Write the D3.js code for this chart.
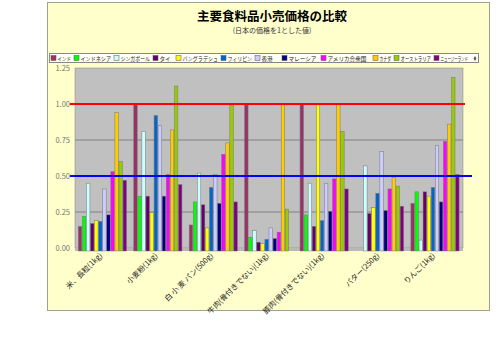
<!DOCTYPE html>
<html>
<head>
<meta charset="utf-8">
<script src="https://cdn.jsdelivr.net/npm/d3@7"></script>
<style>
  body { margin: 0; background: #fff; }
  svg text { font-family: "Noto Sans CJK JP", "DejaVu Sans", sans-serif; }
</style>
</head>
<body>
<svg id="chart" width="500" height="339"></svg>
<script>
const categories = ["米、長粒(1kg)", "小麦粉(1kg)", "白 小 麦 パン(500g)", "牛肉(骨付きでない)(1kg)",
  "豚肉(骨付きでない)(1kg)", "バター(250g)", "りんご(1kg)"];
const countries = ["インド", "インドネシア", "シンガポール", "タイ", "バングラデシュ", "フィリピン",
  "香港", "マレーシア", "アメリカ合衆国", "カナダ", "オーストラリア", "ニュージーランド"];
const colors = ["#993366", "#00FF00", "#CCFFFF", "#660066", "#FFFF00", "#0066CC",
  "#CCCCFF", "#000080", "#FF00FF", "#FFCC00", "#99CC00", "#800080"];
// one row per country, one value per category (null = no data)
const values = [
  [0.15, 1.00, 0.16, 1.00, 1.00, null, 0.31],
  [0.22, 0.36, 0.32, 0.075, 0.23, null, 0.39],
  [0.45, 0.81, 0.52, 0.12, 0.45, 0.57, 0.055],
  [0.17, 0.36, 0.30, 0.04, 0.15, 0.24, 0.39],
  [0.19, 0.245, 0.14, 0.03, 1.00, 0.28, 0.36],
  [0.185, 0.92, 0.42, 0.06, 0.19, 0.38, 0.42],
  [0.41, 0.85, 0.51, 0.14, 0.45, 0.67, 0.71],
  [0.23, 0.36, 0.31, 0.065, 0.255, 0.26, 0.32],
  [0.53, 0.51, 0.65, 0.11, 0.48, 0.41, 0.74],
  [0.94, 0.82, 0.73, 1.00, 1.00, 0.49, 0.86],
  [0.60, 1.125, 0.99, 0.27, 0.81, 0.43, 1.185],
  [0.47, 0.44, 0.32, null, 0.41, 0.29, 0.51]
];
const yTicks = [0, 0.25, 0.5, 0.75, 1.0, 1.25];
const refLines = [{v: 1.0, color: "#FF0000", x2: 465}, {v: 0.5, color: "#0000FF", x2: 472}];

const svg = d3.select("#chart");

// chart area
svg.append("rect").attr("x", 47.5).attr("y", 2.5).attr("width", 442).attr("height", 308)
  .attr("fill", "#FFFFCC").attr("stroke", "#A0A090");

svg.append("text").attr("x", 272).attr("y", 20.5).attr("text-anchor", "middle")
  .attr("font-size", 12.5).attr("font-weight", "bold").attr("fill", "#000")
  .text("主要食料品小売価格の比較");
svg.append("text").attr("x", 272).attr("y", 33).attr("text-anchor", "middle")
  .attr("font-size", 7).attr("fill", "#333")
  .text("(日本の価格を1とした値)");

// legend
const legend = svg.append("g");
legend.append("rect").attr("x", 49.5).attr("y", 53.5).attr("width", 429).attr("height", 9)
  .attr("fill", "#FFFFF4").attr("stroke", "#888");
const legX = [50, 73, 113, 152, 175, 220, 254, 281, 320, 372, 393, 433, 470];
countries.forEach((c, i) => {
  legend.append("rect").attr("x", legX[i] + 1).attr("y", 55.5).attr("width", 5).attr("height", 5)
    .attr("fill", colors[i]).attr("stroke", "#555").attr("stroke-width", 0.5);
  const t = legend.append("text").attr("x", legX[i] + 7.5).attr("y", 60.5).attr("font-size", 5.6)
    .attr("fill", "#222").text(c);
  const room = legX[i + 1] - legX[i] - 9.5;
  if (t.node().getComputedTextLength() > room) {
    t.attr("textLength", room).attr("lengthAdjust", "spacingAndGlyphs");
  }
});
legend.append("path").attr("transform", "translate(475,58.5)")
  .attr("d", d3.symbol(d3.symbolDiamond, 7)).attr("fill", "#555");

// plot
const x0 = d3.scaleBand().domain(categories).range([75, 463]).paddingInner(0.12).paddingOuter(0.06);
const x1 = d3.scaleBand().domain(countries).range([0, x0.bandwidth()]);
const y = d3.scaleLinear().domain([0, 1.25]).range([248, 68]);

svg.append("rect").attr("x", 75).attr("y", 68).attr("width", 388).attr("height", 180)
  .attr("fill", "#C0C0C0").attr("stroke", "#808080").attr("stroke-width", 0.5);
// floor strip
svg.append("rect").attr("x", 75).attr("y", 248).attr("width", 388).attr("height", 3)
  .attr("fill", "#B8B8B8");

const yAxis = svg.append("g").attr("transform", "translate(75,0)")
  .call(d3.axisLeft(y).tickValues(yTicks).tickFormat(d3.format(".2f")).tickSize(0).tickPadding(5));
yAxis.select(".domain").remove();
yAxis.selectAll("text").attr("font-size", 7.5).attr("fill", "#777")
  .attr("font-family", "Liberation Sans, Arial, sans-serif");

svg.append("g").selectAll("line").data(yTicks.slice(1, 5)).join("line")
  .attr("x1", 75).attr("x2", 463).attr("y1", d => y(d)).attr("y2", d => y(d))
  .attr("stroke", "#808080").attr("stroke-width", 1);

const cells = [];
values.forEach((row, si) => row.forEach((v, ci) => {
  if (v !== null) cells.push({s: si, c: ci, v: v});
}));

svg.append("g").selectAll("rect").data(cells).join("rect")
  .attr("x", d => x0(categories[d.c]) + x1(countries[d.s]))
  .attr("y", d => y(d.v))
  .attr("width", x1.bandwidth() - 0.6)
  .attr("height", d => y(0) + 3 - y(d.v))
  .attr("fill", d => colors[d.s])
  .attr("stroke", "#777").attr("stroke-width", 0.5);

// reference lines
svg.append("g").selectAll("line").data(refLines).join("line")
  .attr("x1", 70).attr("x2", d => d.x2)
  .attr("y1", d => y(d.v)).attr("y2", d => y(d.v))
  .attr("stroke", d => d.color).attr("stroke-width", 2);

// category labels
svg.append("g").selectAll("text").data(categories).join("text")
  .attr("transform", d => `translate(${x0(d) + x0.bandwidth() / 2},256) rotate(-45)`)
  .attr("text-anchor", "end").attr("font-size", 7.5).attr("fill", "#222")
  .text(d => d);
</script>
</body>
</html>
